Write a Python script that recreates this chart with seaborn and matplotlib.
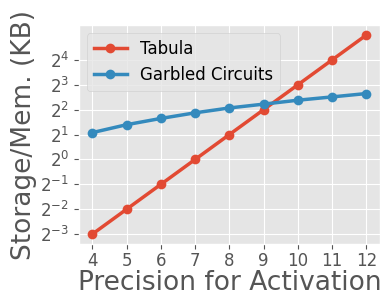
import numpy as np
import pandas as pd
import seaborn as sns
import matplotlib.pyplot as plt

precision = [4, 5, 6, 7, 8, 9, 10, 11, 12]
tabula_kb = [0.125, 0.25, 0.5, 1, 2, 4, 8, 16, 32]
garbled_kb = [2.11, 2.63, 3.13, 3.66, 4.19, 4.66, 5.2, 5.7, 6.26]
ytick_exp = [-3, -2, -1, 0, 1, 2, 3, 4]

df = pd.DataFrame({
    "Precision": precision * 2,
    "KB": tabula_kb + garbled_kb,
    "Method": ["Tabula"] * len(precision) + ["Garbled Circuits"] * len(precision),
})

plt.style.use("ggplot")

fig, ax = plt.subplots(figsize=(3.84, 2.94), dpi=100)
sns.lineplot(data=df, x="Precision", y="KB", hue="Method", marker="o",
             palette=["#E24A33", "#348ABD"], linewidth=2.5, markersize=7,
             markeredgewidth=0, ax=ax)

ax.set_yscale("log", base=2)
ax.set_yticks([2.0 ** e for e in ytick_exp])
ax.set_yticklabels([f"$2^{{{e}}}$" for e in ytick_exp])
ax.minorticks_off()
ax.set_xticks(precision)
ax.tick_params(labelsize=12)
ax.tick_params(axis="x", pad=2)

ax.set_xlabel("Precision for Activation", fontsize=19, color="#555555", labelpad=0)
ax.set_ylabel("Storage/Mem. (KB)", fontsize=19, color="#555555", labelpad=2)

ax.legend(loc="upper left", fontsize=12, title=None)

fig.subplots_adjust(left=0.205, right=0.99, top=0.915, bottom=0.17)
fig.savefig("out.png", dpi=100)
